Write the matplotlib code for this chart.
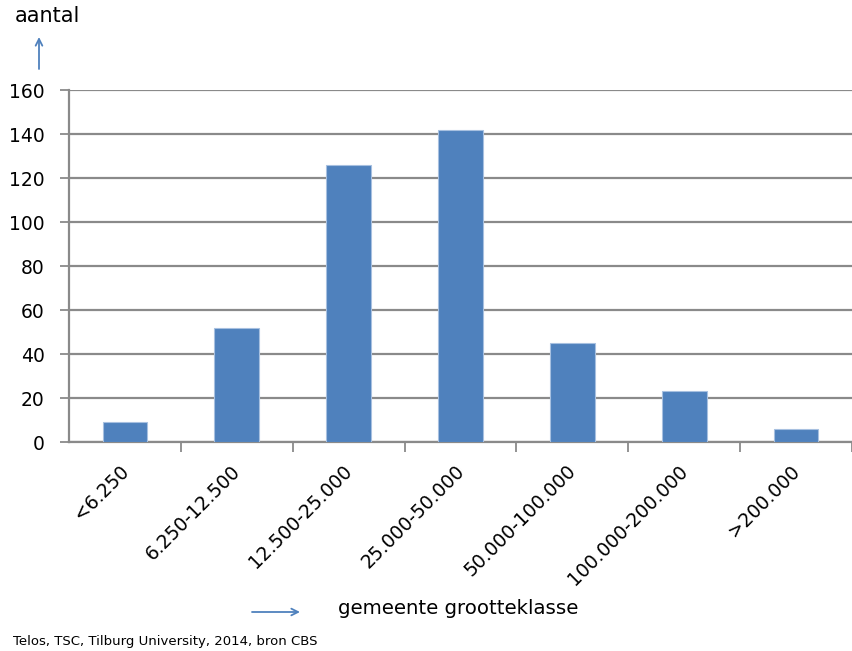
"""
Aantal gemeenten per gemeentegrootteklasse (staafdiagram)
"""

import matplotlib
matplotlib.use('Agg')
import matplotlib.pyplot as plt
import matplotlib.patches as patches
import matplotlib.transforms as mtransforms

# data
klassen = ['<6.250', '6.250-12.500', '12.500-25.000', '25.000-50.000',
           '50.000-100.000', '100.000-200.000', '>200.000']
aantal = [9, 52, 126, 142, 45, 23, 6]
y_ticks = [0, 20, 40, 60, 80, 100, 120, 140, 160]

BLAUW = '#4f81bd'
GRIJS = '#8a8a8a'

fig = plt.figure(figsize=(8.52, 6.51), dpi=100)
ax = fig.add_axes([69 / 852, 1 - 442 / 651, 1 - 69 / 852, (442 - 90) / 651])

x = list(range(len(klassen)))
ax.bar(x, aantal, width=0.4, color=BLAUW, edgecolor='#a7c0e0', linewidth=0.8, zorder=3)

# assen
ax.set_xlim(-0.5, 6.43)
ax.set_ylim(0, 160)
ax.set_yticks(y_ticks)
ax.yaxis.grid(True, color=GRIJS, linewidth=1.6, zorder=0)
ax.tick_params(axis='y', length=6.5, width=1.3, color=GRIJS, labelsize=13.5, pad=11)

# x-ticks tussen de categorieen, labels in het midden
ax.set_xticks([i + 0.5 for i in range(len(klassen))], minor=False)
ax.set_xticklabels([])
ax.tick_params(axis='x', which='major', length=7, width=1.3, color=GRIJS)
ax.set_xticks(x, minor=True)
labels = ax.set_xticklabels(klassen, minor=True, rotation=45, ha='right',
                            rotation_mode='anchor', fontsize=13.5)
ax.tick_params(axis='x', which='minor', length=0, pad=14)
verschuif = mtransforms.ScaledTranslation(-0.06, 0, fig.dpi_scale_trans)
for lbl in labels:
    lbl.set_transform(lbl.get_transform() + verschuif)

for side in ['top', 'right']:
    ax.spines[side].set_visible(False)
for side in ['left', 'bottom']:
    ax.spines[side].set_color(GRIJS)
    ax.spines[side].set_linewidth(1.6)

# as-titels met pijlen
fig.text(15 / 852, 1 - 16 / 651, 'aantal', fontsize=15, va='center', ha='left')
fig.add_artist(patches.FancyArrowPatch(
    (39 / 852, 1 - 69 / 651), (39 / 852, 1 - 37 / 651),
    transform=fig.transFigure, arrowstyle='->', mutation_scale=12,
    color=BLAUW, linewidth=1.3, shrinkA=0, shrinkB=0))

fig.text(338 / 852, 1 - 609 / 651, 'gemeente grootteklasse', fontsize=14.2,
         va='center', ha='left')
fig.add_artist(patches.FancyArrowPatch(
    (252 / 852, 1 - 612 / 651), (300 / 852, 1 - 612 / 651),
    transform=fig.transFigure, arrowstyle='->', mutation_scale=12,
    color=BLAUW, linewidth=1.3, shrinkA=0, shrinkB=0))

fig.text(13 / 852, 1 - 642 / 651, 'Telos, TSC, Tilburg University, 2014, bron CBS',
         fontsize=9.5, va='center', ha='left')

plt.savefig('out.png', dpi=100)
